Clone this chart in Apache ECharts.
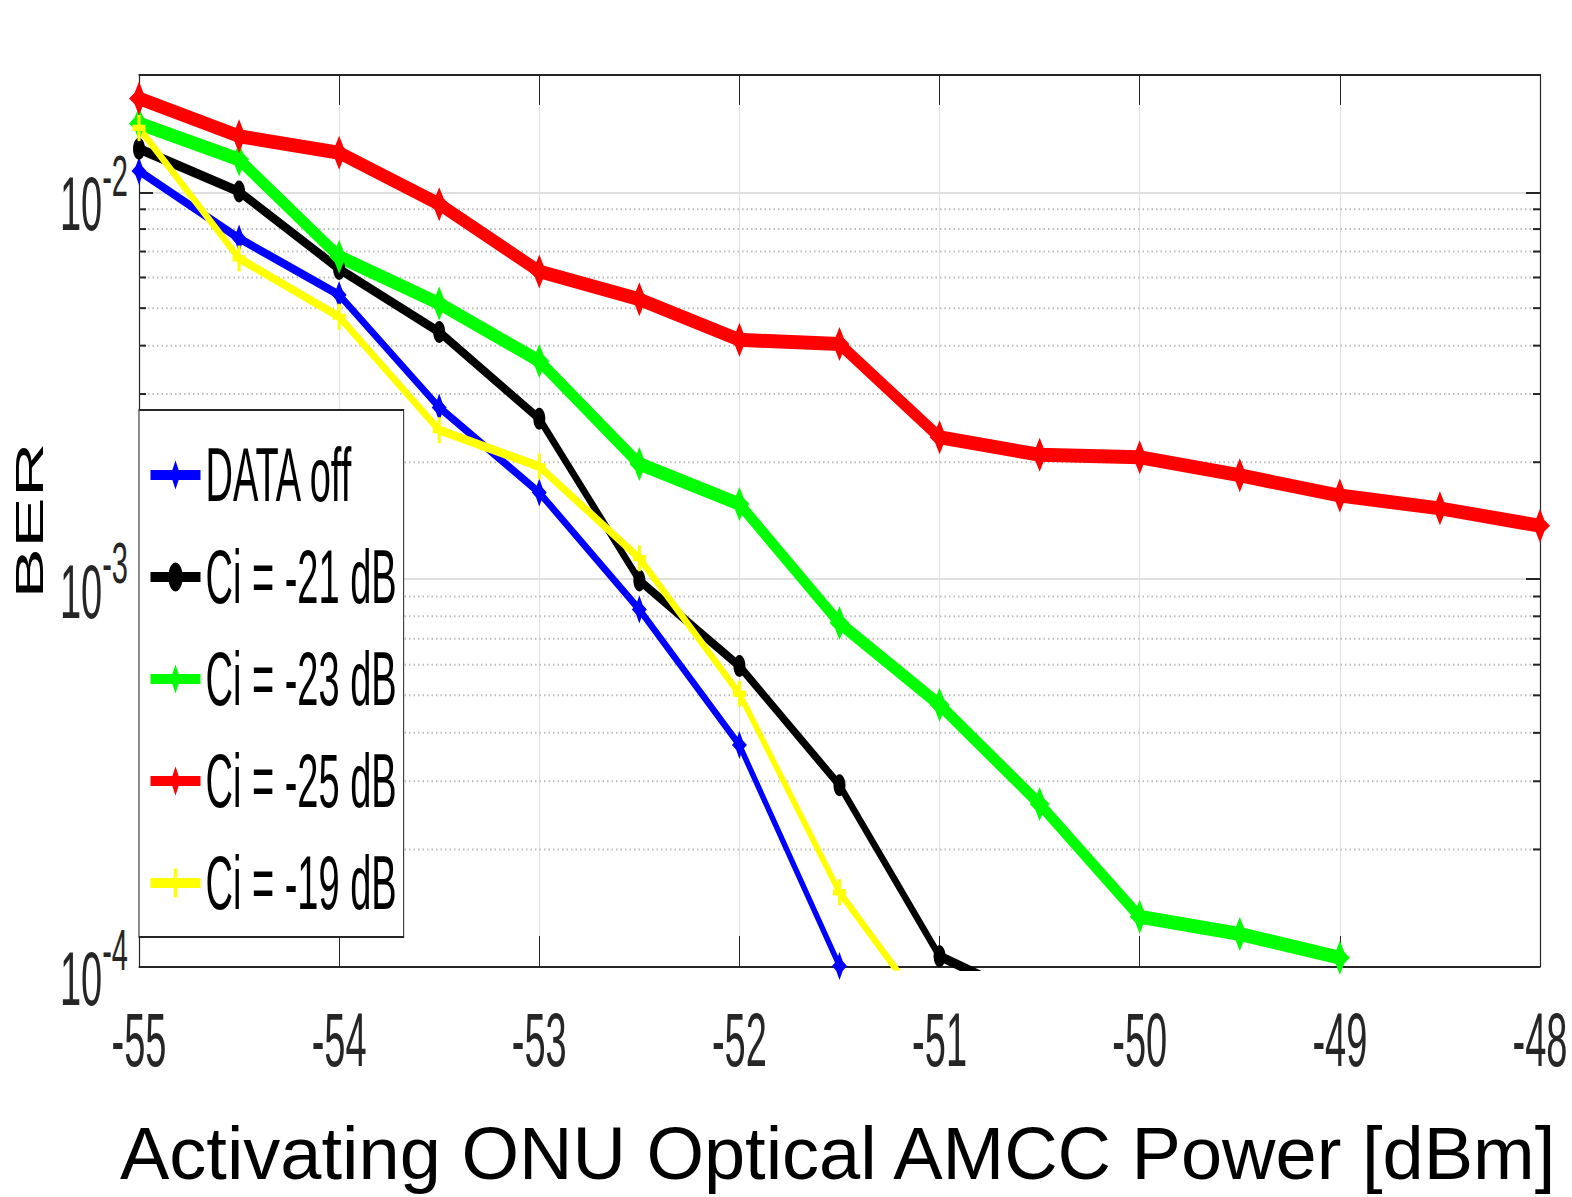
<!DOCTYPE html>
<html><head><meta charset="utf-8">
<script src="https://cdn.jsdelivr.net/npm/echarts@6/dist/echarts.min.js"></script>
<style>
html,body{margin:0;padding:0;background:#fff;overflow:hidden;width:1572px;height:1197px;}
#main{position:absolute;left:0;top:0;width:1572px;height:598.5px;transform:scaleY(2);transform-origin:0 0;}
#xlab{position:absolute;left:0;top:1060px;width:1572px;height:137px;}
</style></head><body>
<div id="main"></div><div id="xlab"></div>
<script>
// ---- data ----
const SERIES_NAMES = ['DATA off', 'Ci = -21 dB', 'Ci = -23 dB', 'Ci = -25 dB', 'Ci = -19 dB'];
const X_DATA_OFF = [-55, -54.5, -54, -53.5, -53, -52.5, -52, -51.5];
const Y_DATA_OFF = [0.0113, 0.00757, 0.00541, 0.00277, 0.00167, 0.000833, 0.000372, 0.0001];
const X_CI21 = [-55, -54.5, -54, -53.5, -53, -52.5, -52, -51.5, -51, -50.5];
const Y_CI21 = [0.0129, 0.0100, 0.00631, 0.00434, 0.00259, 0.00099, 0.000595, 0.000293, 0.000106, 0.00008];
const X_CI23 = [-55, -54.5, -54, -53.5, -53, -52.5, -52, -51.5, -51, -50.5, -50, -49.5, -49];
const Y_CI23 = [0.0150, 0.0121, 0.00679, 0.00514, 0.00365, 0.00198, 0.00156, 0.000769, 0.000473, 0.000262, 0.000134, 0.000121, 0.000105];
const X_CI25 = [-55, -54.5, -54, -53.5, -53, -52.5, -52, -51.5, -51, -50.5, -50, -49.5, -49, -48.5, -48];
const Y_CI25 = [0.0174, 0.0139, 0.0126, 0.00928, 0.00622, 0.00527, 0.00414, 0.00404, 0.00232, 0.00209, 0.00206, 0.00185, 0.00164, 0.00152, 0.00137];
const X_CI19 = [-55, -54.5, -54, -53.5, -53, -52.5, -52, -51.5, -51];
const Y_CI19 = [0.0146, 0.00672, 0.00475, 0.00242, 0.00195, 0.00113, 0.000505, 0.000155, 0.000069];
const X_MIN = -55, X_MAX = -48, X_STEP = 1;
const Y_MIN = 0.0001, Y_MAX = 0.02;
const MINOR_Y = [0.0002, 0.0003, 0.0004, 0.0005, 0.0006, 0.0007, 0.0008, 0.0009,
                 0.002, 0.003, 0.004, 0.005, 0.006, 0.007, 0.008, 0.009];
const X_TITLE = 'Activating ONU Optical AMCC Power [dBm]';
const Y_TITLE = 'BER';

// ---- styling ----
const FONT = "'Liberation Sans', Arial, Helvetica, sans-serif";
const AXIS_COLOR = '#262626';
const GRID_COLOR = '#e0e0e0';
const STAR = 'path://M5,0 L7.2,3.3 L10,5 L7.2,6.7 L5,10 L2.8,6.7 L0,5 L2.8,3.3 Z';
const PLUS = 'path://M3.8,0 L6.2,0 L6.2,3.8 L10,3.8 L10,6.2 L6.2,6.2 L6.2,10 L3.8,10 L3.8,6.2 L0,6.2 L0,3.8 L3.8,3.8 Z';

function zip(xs, ys) { return xs.map((x, i) => [x, ys[i]]); }

const lineDefs = [
  { name: SERIES_NAMES[0], xs: X_DATA_OFF, ys: Y_DATA_OFF, color: '#0000ff', width: 4.5, symbol: STAR, size: [15, 14] },
  { name: SERIES_NAMES[1], xs: X_CI21, ys: Y_CI21, color: '#000000', width: 5, symbol: 'circle', size: [12, 11] },
  { name: SERIES_NAMES[2], xs: X_CI23, ys: Y_CI23, color: '#00ff00', width: 7, symbol: STAR, size: [20, 17] },
  { name: SERIES_NAMES[3], xs: X_CI25, ys: Y_CI25, color: '#ff0000', width: 7, symbol: STAR, size: [20, 17] },
  { name: SERIES_NAMES[4], xs: X_CI19, ys: Y_CI19, color: '#ffff00', width: 4.5, symbol: PLUS, size: [13, 13] }
];

const series = lineDefs.map(d => ({
  type: 'line', name: d.name, data: zip(d.xs, d.ys),
  xAxisIndex: 0, yAxisIndex: 0,
  symbol: d.symbol, symbolSize: d.size, showAllSymbol: true,
  lineStyle: { color: d.color, width: d.width },
  itemStyle: { color: d.color },
  clip: true, z: 3, silent: true
}));

series.unshift({
  type: 'custom', name: 'minor', xAxisIndex: 0, yAxisIndex: 0, z: 1, silent: true, clip: false,
  data: MINOR_Y.map(v => [X_MIN, v]), encode: { x: 0, y: 1 },
  renderItem: function (params, api) {
    const v = api.value(1);
    const pL = api.coord([X_MIN, v]);
    const pR = api.coord([X_MAX, v]);
    return { type: 'group', children: [
      { type: 'line', shape: { x1: pL[0], y1: pL[1], x2: pR[0], y2: pR[1] },
        style: { stroke: '#bdbdbd', lineWidth: 1, lineDash: [1.5, 3] } },
      { type: 'line', shape: { x1: pL[0], y1: pL[1], x2: pL[0] + 7, y2: pL[1] },
        style: { stroke: AXIS_COLOR, lineWidth: 1 } },
      { type: 'line', shape: { x1: pR[0] - 7, y1: pR[1], x2: pR[0], y2: pR[1] },
        style: { stroke: AXIS_COLOR, lineWidth: 1 } }
    ] };
  }
});

function yLabel(v) {
  const l = Math.log10(v);
  const e = Math.round(l);
  if (Math.abs(l - e) > 1e-6) return '';
  return '{b|10}{s|' + e + '}';
}

const xAxisBase = {
  type: 'value', min: X_MIN, max: X_MAX, interval: X_STEP, gridIndex: 0,
  axisLine: { show: true, onZero: false, lineStyle: { color: AXIS_COLOR, width: 1 } },
  axisTick: { show: true, inside: true, length: 15, lineStyle: { color: AXIS_COLOR, width: 1 } }
};
const yAxisBase = {
  type: 'log', logBase: 10, min: Y_MIN, max: Y_MAX, interval: 1, gridIndex: 0,
  axisLine: { show: true, onZero: false, lineStyle: { color: AXIS_COLOR, width: 1.2 } },
  axisTick: { show: true, inside: true, length: 14, lineStyle: { color: AXIS_COLOR, width: 1 } }
};

const option = {
  animation: false,
  backgroundColor: '#ffffff',
  grid: { left: 139, top: 37.5, width: 1401, height: 445.5, containLabel: false, outerBoundsMode: 'none' },
  legend: {
    show: true, orient: 'vertical', left: 139, top: 205,
    data: SERIES_NAMES,
    padding: [13.5, 7, 8, 9], itemGap: 13, itemWidth: 50, itemHeight: 18,
    backgroundColor: '#ffffff', borderColor: AXIS_COLOR, borderWidth: 1, borderRadius: 0,
    lineStyle: { width: 5 },
    textStyle: { fontFamily: FONT, fontSize: 38, color: '#000000' },
    selectedMode: false, z: 10
  },
  xAxis: [
    Object.assign({}, xAxisBase, {
      position: 'bottom',
      splitLine: { show: true, lineStyle: { color: GRID_COLOR, width: 1 } },
      axisLabel: { show: true, margin: 18, fontFamily: FONT, fontSize: 38, color: AXIS_COLOR,
                   showMinLabel: true, showMaxLabel: true, formatter: v => String(v) }
    }),
    Object.assign({}, xAxisBase, {
      position: 'top', splitLine: { show: false }, axisLabel: { show: false }
    })
  ],
  yAxis: [
    Object.assign({}, yAxisBase, {
      position: 'left',
      name: Y_TITLE, nameLocation: 'middle', nameRotate: 90, nameGap: 86,
      nameTextStyle: { fontFamily: FONT, fontSize: 38, color: '#000000' },
      splitLine: { show: true, lineStyle: { color: GRID_COLOR, width: 1 } },
      axisLabel: {
        show: true, margin: 11, formatter: yLabel, showMinLabel: true, showMaxLabel: true,
        padding: [11, 0, 0, 0],
        rich: {
          b: { fontFamily: FONT, fontSize: 38, color: AXIS_COLOR, lineHeight: 40, verticalAlign: 'bottom' },
          s: { fontFamily: FONT, fontSize: 29, color: AXIS_COLOR, lineHeight: 28, padding: [0, 0, 19, 0], verticalAlign: 'bottom' }
        }
      }
    }),
    Object.assign({}, yAxisBase, {
      position: 'right', splitLine: { show: false }, axisLabel: { show: false }
    })
  ],
  series: series
};

const chart = echarts.init(document.getElementById('main'), null, { renderer: 'svg', width: 1572, height: 598.5 });
chart.setOption(option);

const xchart = echarts.init(document.getElementById('xlab'), null, { renderer: 'svg', width: 1572, height: 137 });
xchart.setOption({
  animation: false,
  title: { text: X_TITLE, left: 120, top: 56, padding: 0,
           textStyle: { fontFamily: FONT, fontSize: 74, fontWeight: 'normal', color: '#000000' } }
});
</script>
</body></html>
